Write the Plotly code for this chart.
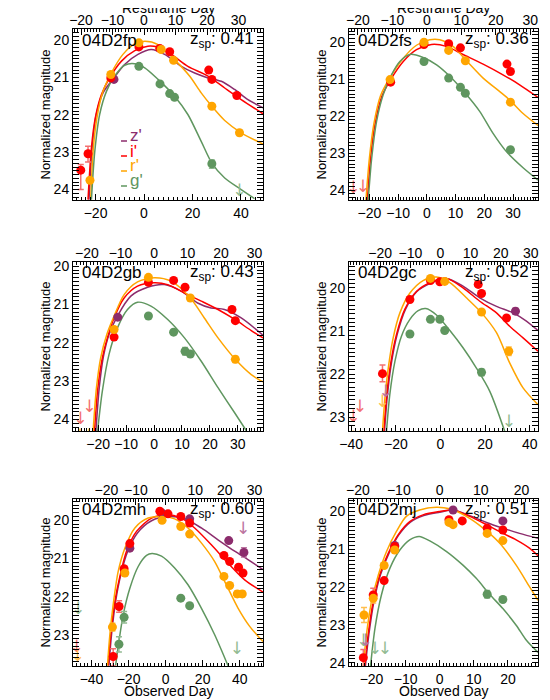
import plotly.graph_objects as go

FONT = "Liberation Sans, Arial, Helvetica, sans-serif"
COLORS = {"z": "#8c2c6c", "i": "#ff0000", "r": "#ffa500", "g": "#5f965f"}
LIGHT = {"z": "#bb74a0", "i": "#f37070", "r": "#ffbf50", "g": "#92bb92"}
BAND_ORDER = ["z", "i", "r", "g"]

# ---- 04D2fp ----
fp_pts = {
    "z": ([-12.4], [21.05]),
    "i": ([-26.1, -23.1, -13.7, -2.1, 6.5, 10.6, 26.7, 28.0, 38.3],
          [23.48, 23.04, 21.01, 20.18, 20.22, 20.31, 20.80, 21.05, 21.48]),
    "r": ([-22.3, -13.7, -2.1, 7.1, 12.2, 28.0, 39.4],
          [23.75, 20.92, 20.07, 20.25, 20.54, 21.77, 22.48]),
    "g": ([-2.1, 6.6, 10.6, 12.6, 28.0], [20.70, 21.17, 21.43, 21.53, 23.31]),
}
fp_err = [("i", -26.1, 23.48, 0.15, 0.52), ("i", -23.1, 23.04, 0.20, 0.22),
          ("r", 39.4, 22.48, 0.07, 0.07), ("g", 28.0, 23.31, 0.10, 0.12)]
fp_lim = [("g", 39.4, 24.05)]
fp_fit = {
    "z": ([-22.7, -21.4, -19.7, -16.9, -12.4, -8.0, -2.5, 3.0, 8.5, 15.4, 20.9, 26.4, 31.9, 37.4, 42.9, 49.1],
          [24.27, 22.88, 21.99, 21.41, 21.01, 20.65, 20.38, 20.25, 20.38, 20.70, 20.88, 21.01, 21.10, 21.32, 21.59, 21.81]),
    "i": ([-23.1, -21.7, -20.1, -17.6, -14.2, -9.3, -3.8, 1.6, 5.8, 11.3, 18.1, 26.4, 33.3, 40.1, 49.1],
          [24.27, 22.88, 22.08, 21.46, 21.01, 20.56, 20.28, 20.16, 20.19, 20.38, 20.70, 20.96, 21.28, 21.59, 21.97]),
    "r": ([-22.0, -20.9, -19.2, -16.9, -13.5, -8.7, -3.8, 0.3, 5.8, 12.6, 18.8, 23.6, 28.0, 33.3, 40.1, 49.1],
          [24.27, 22.88, 21.99, 21.37, 20.88, 20.38, 20.10, 20.03, 20.12, 20.52, 20.96, 21.41, 21.77, 22.15, 22.48, 22.78]),
    "g": ([-21.7, -20.3, -18.3, -15.5, -12.1, -8.0, -3.8, 0.3, 5.8, 12.6, 18.1, 23.6, 28.0, 33.3, 40.1, 45.6],
          [24.27, 22.97, 21.99, 21.37, 20.96, 20.67, 20.63, 20.74, 21.05, 21.50, 21.99, 22.71, 23.29, 23.69, 24.00, 24.24]),
}

# ---- 04D2fs ----
fs_pts = {
    "i": ([-12.6, -1.0, 7.6, 11.7, 27.9, 29.1], [21.08, 20.06, 20.04, 20.15, 20.59, 20.79]),
    "r": ([-12.8, -1.0, 7.6, 13.4, 29.1], [21.01, 20.00, 20.22, 20.50, 21.62]),
    "g": ([-1.0, 7.6, 11.7, 13.4, 29.1], [20.52, 20.97, 21.22, 21.38, 22.91]),
}
fs_err = []
fs_lim = [("i", -25.6, 23.97), ("i", -22.3, 23.93)]
fs_fit = {
    "i": ([-20.7, -19.6, -18.1, -15.7, -12.6, -8.2, -3.6, 1.6, 6.8, 12.6, 19.6, 26.5, 32.3, 38.7],
          [24.27, 23.14, 22.24, 21.47, 21.01, 20.52, 20.20, 20.06, 20.11, 20.33, 20.59, 20.88, 21.15, 21.49]),
    "r": ([-21.2, -20.0, -18.4, -16.1, -13.1, -8.2, -3.6, 1.0, 4.5, 9.1, 13.8, 19.6, 25.3, 29.1, 33.4, 38.7],
          [24.27, 23.14, 22.19, 21.44, 20.99, 20.43, 20.08, 19.93, 19.93, 20.11, 20.50, 20.97, 21.33, 21.58, 21.92, 22.25]),
    "g": ([-20.4, -19.2, -17.5, -15.2, -12.3, -9.4, -5.9, -1.3, 3.4, 8.0, 13.4, 18.4, 23.0, 27.7, 33.4, 38.7],
          [24.27, 23.14, 22.14, 21.42, 20.88, 20.52, 20.33, 20.41, 20.61, 20.92, 21.38, 21.87, 22.46, 22.96, 23.39, 23.73]),
}

# ---- 04D2gb ----
gb_pts = {
    "z": ([-13.0], [21.33]),
    "i": ([-14.3, -2.0, 7.0, 11.1, 27.9, 29.1], [21.85, 20.42, 20.37, 20.55, 21.13, 21.42]),
    "r": ([-14.3, -2.0, 13.0, 29.1], [21.65, 20.29, 20.83, 22.43]),
    "g": ([-2.0, 7.0, 11.1, 13.0], [21.30, 21.72, 22.22, 22.29]),
}
gb_err = [("r", 29.1, 22.43, 0.08, 0.08), ("g", 11.1, 22.22, 0.10, 0.10)]
gb_lim = [("i", -26.4, 24.00), ("i", -23.1, 23.70), ("r", -26.5, 24.45),
          ("r", -23.3, 24.45), ("g", 29.1, 24.50)]
gb_fit = {
    "z": ([-20.8, -19.6, -18.1, -16.1, -13.1, -8.3, -2.3, 3.7, 9.7, 15.6, 20.4, 25.2, 31.2, 39.0],
          [24.30, 23.17, 22.35, 21.78, 21.30, 20.78, 20.55, 20.48, 20.65, 20.96, 21.09, 21.13, 21.35, 21.80]),
    "i": ([-21.3, -20.1, -18.5, -16.7, -14.3, -10.7, -5.9, 0.1, 4.9, 10.9, 16.9, 22.9, 28.9, 34.8, 39.0],
          [24.30, 23.17, 22.39, 21.87, 21.35, 20.83, 20.52, 20.43, 20.48, 20.70, 20.91, 21.13, 21.39, 21.68, 21.87]),
    "r": ([-21.8, -20.6, -19.1, -16.9, -14.3, -10.7, -5.9, 0.1, 6.1, 13.0, 18.0, 22.9, 29.1, 34.8, 39.0],
          [24.30, 23.17, 22.39, 21.78, 21.30, 20.74, 20.41, 20.30, 20.39, 20.83, 21.35, 21.87, 22.43, 22.83, 23.02]),
    "g": ([-20.2, -18.5, -16.1, -13.1, -9.5, -5.9, -1.1, 4.9, 10.9, 16.9, 22.9, 28.9, 33.1],
          [24.30, 23.26, 22.30, 21.61, 21.13, 20.94, 21.04, 21.39, 21.87, 22.48, 23.17, 23.83, 24.30]),
}

# ---- 04D2gc ----
gc_pts = {
    "z": ([33.6], [20.54]),
    "i": ([-26.0, -13.7, -4.5, -0.3, 16.9, 18.4, 29.6], [21.99, 20.27, 19.83, 19.86, 19.92, 20.13, 20.70]),
    "r": ([-4.5, 1.9, 18.4, 30.6], [19.78, 19.85, 20.56, 21.47]),
    "g": ([-13.7, -4.5, -0.3, 1.9, 18.4], [21.07, 20.73, 20.73, 20.99, 21.96]),
}
gc_err = [("i", -26.0, 21.99, 0.20, 0.19), ("r", 30.6, 21.47, 0.10, 0.10),
          ("g", 18.4, 21.96, 0.08, 0.08), ("z", 33.6, 20.54, 0.07, 0.07)]
gc_lim = [("i", -39.1, 23.02), ("i", -36.1, 22.78), ("r", -26.0, 22.67),
          ("r", -39.0, 23.50), ("r", -36.0, 23.50), ("z", -24.6, 22.44), ("g", 30.6, 23.13)]
gc_fit = {
    "z": ([-25.1, -23.9, -22.1, -19.4, -15.7, -10.7, -4.8, 2.7, 10.1, 17.6, 25.1, 32.5, 38.5, 43.7],
          [23.33, 22.55, 21.78, 21.08, 20.50, 20.09, 19.90, 19.78, 19.96, 20.23, 20.43, 20.58, 20.77, 20.99]),
    "i": ([-25.4, -24.2, -22.4, -19.7, -16.0, -10.7, -4.8, 2.7, 10.1, 17.6, 25.1, 31.0, 37.0, 43.7],
          [23.33, 22.55, 21.78, 21.08, 20.50, 20.08, 19.88, 19.78, 20.00, 20.31, 20.58, 20.89, 21.16, 21.47]),
    "r": ([-26.0, -24.9, -23.4, -21.2, -18.2, -13.7, -7.8, -1.8, 4.2, 11.6, 18.4, 25.1, 31.0, 37.0, 43.7],
          [23.33, 22.55, 21.86, 21.16, 20.58, 20.12, 19.83, 19.75, 19.88, 20.23, 20.58, 21.04, 21.74, 22.32, 22.71]),
    "g": ([-24.2, -22.7, -20.4, -17.5, -13.7, -10.0, -6.6, -1.8, 4.2, 10.1, 16.1, 22.1, 28.8],
          [23.33, 22.47, 21.70, 21.12, 20.73, 20.53, 20.48, 20.63, 20.99, 21.39, 21.86, 22.40, 23.33]),
}

# ---- 04D2mh ----
mh_pts = {
    "z": ([-19.3, -1.9, 13.0, 34.1, 42.3], [20.73, 19.81, 19.96, 20.53, 20.84]),
    "i": ([-28.3, -25.1, -22.4, -19.3, -3.1, 1.3, 8.2, 13.0, 31.5, 34.6, 39.4, 41.8],
          [23.57, 22.26, 21.27, 20.61, 19.76, 19.83, 19.90, 20.07, 20.92, 21.08, 21.23, 21.38]),
    "r": ([-28.7, -22.0, -1.9, 8.2, 13.0, 31.5, 34.6, 38.7, 41.4],
          [22.80, 21.38, 20.00, 20.16, 20.36, 21.47, 21.71, 21.93, 21.93]),
    "g": ([-25.2, -22.4, 8.2, 13.0], [23.25, 22.54, 22.04, 22.24]),
}
mh_err = [("i", -28.3, 23.57, 0.20, 0.25), ("i", -25.1, 22.26, 0.15, 0.15),
          ("r", -28.7, 22.80, 0.10, 0.10), ("g", -25.2, 23.25, 0.20, 0.20),
          ("g", -22.4, 22.54, 0.15, 0.15), ("z", 42.3, 20.84, 0.12, 0.12),
          ("r", 38.7, 21.93, 0.08, 0.08), ("r", 41.4, 21.93, 0.08, 0.08)]
mh_lim = [("g", -47.2, 22.34), ("i", -48.1, 23.35), ("r", -47.5, 23.57),
          ("z", 41.8, 20.25), ("g", 38.5, 23.39)]
mh_fit = {
    "z": ([-30.6, -29.2, -27.0, -24.2, -20.6, -15.2, -7.6, 1.3, 10.3, 19.3, 28.3, 37.3, 44.5, 52.6],
          [23.81, 23.00, 22.13, 21.43, 20.83, 20.33, 20.01, 19.90, 19.96, 20.20, 20.51, 20.81, 21.03, 21.29]),
    "i": ([-31.0, -29.6, -27.4, -24.5, -21.1, -15.7, -7.6, 0.4, 8.5, 15.7, 24.7, 33.7, 42.7, 52.6],
          [23.81, 23.00, 22.13, 21.43, 20.81, 20.29, 19.94, 19.85, 19.94, 20.20, 20.64, 21.12, 21.56, 21.88]),
    "r": ([-31.4, -30.1, -28.3, -25.6, -22.0, -16.6, -9.4, -1.3, 4.9, 12.1, 19.3, 26.5, 32.8, 39.1, 45.4, 52.6],
          [23.81, 23.00, 22.21, 21.34, 20.73, 20.20, 19.94, 19.90, 19.96, 20.20, 20.59, 21.08, 21.69, 22.30, 22.78, 23.18]),
    "g": ([-27.0, -25.2, -22.9, -19.3, -14.8, -10.3, -7.3, -2.2, 4.9, 12.1, 19.3, 26.5, 33.7],
          [23.81, 23.18, 22.48, 21.78, 21.21, 20.92, 20.87, 20.94, 21.25, 21.69, 22.30, 23.00, 23.81]),
}

# ---- 04D2mj ----
mj_pts = {
    "z": ([-13.2, 3.9, 18.5], [20.90, 19.96, 20.25]),
    "i": ([-22.4, -19.5, -16.3, -13.2, 2.7, 6.6, 13.9, 18.5],
          [23.87, 22.21, 21.83, 20.93, 20.22, 20.25, 20.44, 20.49]),
    "r": ([-22.2, -19.5, -16.3, -13.2, 2.7, 3.9, 13.9, 18.5],
          [22.74, 22.30, 21.43, 21.02, 20.29, 20.35, 20.58, 20.77]),
    "g": ([13.9, 18.5], [22.19, 22.33]),
}
mj_err = [("r", -22.2, 22.74, 0.20, 0.20), ("r", -19.5, 22.30, 0.12, 0.12),
          ("i", -22.4, 23.87, 0.22, 0.25), ("i", -19.5, 22.21, 0.18, 0.10),
          ("g", 13.9, 22.19, 0.10, 0.10)]
mj_lim = [("g", -22.4, 23.45), ("g", -19.0, 23.67), ("g", -16.1, 23.67), ("z", -21.7, 23.45)]
mj_fit = {
    "z": ([-21.8, -20.8, -19.3, -17.4, -14.9, -12.0, -8.6, -4.7, 0.0, 3.9, 8.8, 13.7, 18.5, 23.4, 28.8],
          [24.10, 23.27, 22.39, 21.68, 21.11, 20.62, 20.28, 20.11, 20.02, 19.96, 20.11, 20.29, 20.44, 20.58, 20.71]),
    "i": ([-22.0, -21.0, -19.5, -17.6, -15.1, -12.2, -8.8, -4.9, 0.0, 3.9, 8.8, 13.7, 18.5, 22.4, 26.3, 28.8],
          [24.10, 23.27, 22.39, 21.68, 21.11, 20.62, 20.27, 20.09, 20.00, 19.96, 20.13, 20.35, 20.58, 20.75, 20.97, 21.17]),
    "r": ([-22.4, -21.5, -20.0, -18.0, -15.6, -12.7, -9.8, -5.9, -1.0, 2.9, 7.8, 12.7, 17.6, 22.4, 26.3, 28.8],
          [24.10, 23.27, 22.39, 21.68, 21.06, 20.53, 20.13, 19.96, 19.89, 19.93, 20.13, 20.44, 20.84, 21.42, 21.99, 22.35]),
    "g": ([-20.3, -19.0, -17.1, -14.6, -11.7, -8.8, -6.0, -2.9, 2.0, 6.8, 10.7, 14.6, 18.5, 22.4, 25.4, 28.8],
          [24.10, 23.10, 22.21, 21.50, 21.02, 20.75, 20.66, 20.78, 21.06, 21.42, 21.77, 22.19, 22.57, 23.01, 23.41, 23.73]),
}

names = ["04D2fp", "04D2fs", "04D2gb", "04D2gc", "04D2mh", "04D2mj"]
z_sp = ["0.41", "0.36", "0.43", "0.52", "0.60", "0.51"]
points = [fp_pts, fs_pts, gb_pts, gc_pts, mh_pts, mj_pts]
errors = [fp_err, fs_err, gb_err, gc_err, mh_err, mj_err]
limits = [fp_lim, fs_lim, gb_lim, gc_lim, mh_lim, mj_lim]
fits = [fp_fit, fs_fit, gb_fit, gc_fit, mh_fit, mj_fit]

# axis set-up per panel (observed-day range, magnitude range, major step, rest-frame stretch)
day_ranges = [[-29.3, 49.1], [-27.1, 38.7], [-29.0, 39.0], [-41.0, 43.7], [-50.0, 52.6], [-26.6, 28.8]]
mag_ranges = [[24.28, 19.70], [24.27, 19.64], [24.30, 19.89], [23.32, 19.40], [23.82, 19.44], [24.09, 19.67]]
day_step = [20, 10, 10, 20, 20, 10]
rest_stretch = [1.3, 1.2, 1.2, 1.35, 1.6, 1.2]
rest_ticks = [-20, -10, 0, 10, 20, 30]

col_dom = [[65 / 550, 255 / 550], [341 / 550, 530 / 550]]
row_dom = [[1 - 192 / 700, 1 - 21 / 700], [1 - 423 / 700, 1 - 254 / 700], [1 - 658 / 700, 1 - 491 / 700]]


def ax_id(letter, n):
    return letter if n == 1 else f"{letter}{n}"


fig = go.Figure()
layout = {}
annotations = []
shapes = []

for k in range(1, 7):
    p = k - 1
    xa, ya, xt = ax_id("x", k), ax_id("y", k), ax_id("x", k + 6)
    xd = col_dom[p % 2]
    yd = row_dom[p // 2]
    lo, hi = day_ranges[p]

    # model curves
    for b in BAND_ORDER:
        if b in fits[p]:
            d, m = fits[p][b]
            fig.add_trace(go.Scatter(x=d, y=m, mode="lines", xaxis=xa, yaxis=ya,
                                     line=dict(color=COLORS[b], width=1.5, shape="spline", smoothing=0.8),
                                     hoverinfo="skip"))
    # error bars
    for b, d, m, up, dn in errors[p]:
        fig.add_trace(go.Scatter(x=[d], y=[m], mode="markers", xaxis=xa, yaxis=ya,
                                 marker=dict(size=1, color="rgba(0,0,0,0)"),
                                 error_y=dict(type="data", symmetric=False, array=[dn], arrayminus=[up],
                                              color=LIGHT[b], thickness=1.5, width=3)))
    # upper limits
    for b, d, m in limits[p]:
        fig.add_trace(go.Scatter(x=[d], y=[m], mode="text", text=["↓"], xaxis=xa, yaxis=ya,
                                 textfont=dict(size=17, color=LIGHT[b], family="DejaVu Sans"),
                                 hoverinfo="skip"))
    # photometry
    for b in BAND_ORDER:
        if b in points[p]:
            d, m = points[p][b]
            fig.add_trace(go.Scatter(x=d, y=m, mode="markers", xaxis=xa, yaxis=ya,
                                     marker=dict(size=9, color=COLORS[b])))
    fig.add_trace(go.Scatter(x=[], y=[], xaxis=xt, yaxis=ya, showlegend=False))

    axis_common = dict(showgrid=False, zeroline=False, ticks="inside", tickcolor="black",
                       tickwidth=1, ticklen=6, automargin=False,
                       tickfont=dict(size=14, color="black", family=FONT))
    layout[ax_id("xaxis", k)] = dict(domain=xd, anchor=ya, range=[lo, hi], tickmode="linear", tick0=0,
                                     dtick=day_step[p], showline=True, linecolor="black", linewidth=1,
                                     mirror=True,
                                     minor=dict(ticks="inside", ticklen=3, dtick=day_step[p] / 10,
                                                tickcolor="black"),
                                     **axis_common)
    s = rest_stretch[p]
    tv = [r * s for r in rest_ticks if lo < r * s < hi]
    tt = [("−" + str(-r)) if r < 0 else str(r) for r in rest_ticks if lo < r * s < hi]
    minor_vals = [r * s for r in range(-40, 41) if lo < r * s < hi]
    layout[f"xaxis{k + 6}"] = dict(overlaying=xa, side="top", anchor=ya, range=[lo, hi],
                                   tickmode="array", tickvals=tv, ticktext=tt, showline=False,
                                   minor=dict(ticks="inside", ticklen=3, tickmode="array",
                                              tickvals=minor_vals, tickcolor="black"),
                                   **axis_common)
    layout[ax_id("yaxis", k)] = dict(domain=yd, anchor=xa, range=mag_ranges[p], tickmode="linear",
                                     tick0=20, dtick=1, showline=True, linecolor="black", linewidth=1,
                                     mirror="allticks",
                                     minor=dict(ticks="inside", ticklen=3, dtick=0.1, tickcolor="black"),
                                     **axis_common)

    annotations.append(dict(text=names[p], xref=f"{xa} domain", yref=f"{ya} domain",
                            x=0.035, y=1 - 11 / 171, xanchor="left", yanchor="middle",
                            showarrow=False, font=dict(size=17, color="black", family=FONT)))
    annotations.append(dict(text=f"z<sub>sp</sub>: {z_sp[p]}", xref=f"{xa} domain",
                            yref=f"{ya} domain", x=0.965, y=1 - 11 / 171, xanchor="right",
                            yanchor="middle", showarrow=False,
                            font=dict(size=17, color="black", family=FONT)))
    annotations.append(dict(text="Normalized magnitude", xref="paper", yref="paper",
                            x=(37 + 276 * (p % 2)) / 550, y=(yd[0] + yd[1]) / 2, textangle=-90,
                            xanchor="center", yanchor="middle", showarrow=False,
                            font=dict(size=13, color="black", family=FONT)))
    if p < 2:
        annotations.append(dict(text="Restframe Day", xref="paper", yref="paper",
                                x=(xd[0] + xd[1]) / 2, y=1.0, xanchor="center", yanchor="middle",
                                showarrow=False, font=dict(size=14, color="black", family=FONT)))
    if p >= 4:
        annotations.append(dict(text="Observed Day", xref="paper", yref="paper",
                                x=(xd[0] + xd[1]) / 2, y=1 - 683 / 700, xanchor="center",
                                yanchor="middle", showarrow=False,
                                font=dict(size=14, color="black", family=FONT)))

# band legend in the first panel
legend_rows = [("z", "z'"), ("i", "i'"), ("r", "r'"), ("g", "g'")]
for n, (b, label) in enumerate(legend_rows):
    yc = 128 + 15 * n
    annotations.append(dict(text=label, xref="x domain", yref="y domain",
                            x=(120 - 65) / 190, y=(192 - yc) / 171, xanchor="left",
                            yanchor="middle", showarrow=False,
                            font=dict(size=17, color=COLORS[b], family=FONT)))
    shapes.append(dict(type="line", xref="x domain", yref="y domain",
                       x0=(113 - 65) / 190, x1=(119 - 65) / 190,
                       y0=(192 - yc - 5) / 171, y1=(192 - yc - 5) / 171,
                       line=dict(color=COLORS[b], width=1.5)))

fig.update_layout(width=550, height=700, template="none", showlegend=False,
                  margin=dict(l=0, r=0, t=0, b=0), paper_bgcolor="white", plot_bgcolor="white",
                  font=dict(family=FONT, color="black"),
                  annotations=annotations, shapes=shapes, **layout)

fig.write_html("out.html")
